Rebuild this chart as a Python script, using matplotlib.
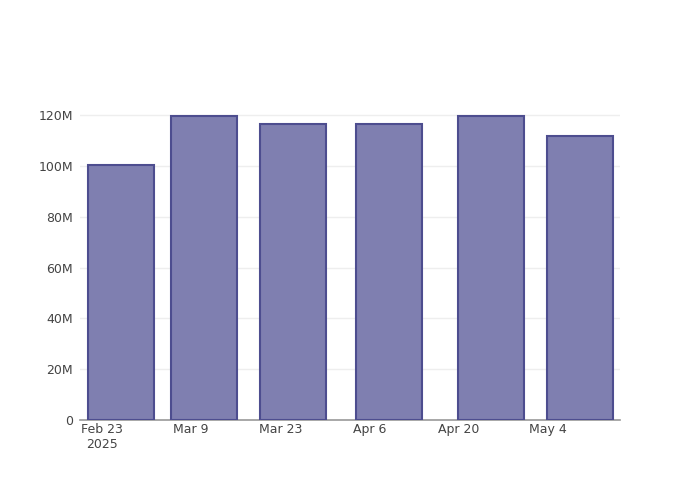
import matplotlib
matplotlib.use("Agg")
import matplotlib.pyplot as plt
import numpy as np
from datetime import datetime

# weekly-ish totals
dates = ["2025-02-26", "2025-03-11", "2025-03-25", "2025-04-09", "2025-04-25", "2025-05-09"]
values = [100.6e6, 119.6e6, 116.4e6, 116.4e6, 119.6e6, 111.7e6]

tick_dates = ["2025-02-23", "2025-03-09", "2025-03-23", "2025-04-06", "2025-04-20", "2025-05-04"]
tick_labels = ["Feb 23\n2025", "Mar 9", "Mar 23", "Apr 6", "Apr 20", "May 4"]

yticks = [0, 20e6, 40e6, 60e6, 80e6, 100e6, 120e6]
ylabels = ["0", "20M", "40M", "60M", "80M", "100M", "120M"]

x = [datetime.strptime(d, "%Y-%m-%d") for d in dates]
xt = [datetime.strptime(d, "%Y-%m-%d") for d in tick_dates]

fig = plt.figure(figsize=(7, 5), dpi=100)
ax = fig.add_axes([80 / 700, 80 / 500, 540 / 700, 320 / 500])

ax.bar(x, values, width=10.4, color="#7f7fb0", edgecolor="#4d4d8f",
       linewidth=1.5, zorder=3)

ax.set_xlim(datetime(2025, 2, 19, 14), datetime(2025, 5, 15, 6))
ax.set_ylim(0, 126e6)

ax.set_xticks(xt)
ax.set_xticklabels(tick_labels, fontsize=9, color="#444444")
for lbl in ax.get_xticklabels()[:1]:
    lbl.set_multialignment("center")
ax.set_yticks(yticks)
ax.set_yticklabels(ylabels, fontsize=9, color="#444444")
ax.tick_params(axis="both", length=0)
ax.tick_params(axis="x", pad=2)
ax.tick_params(axis="y", pad=5)

ax.grid(axis="y", color="#eeeeee", linewidth=1, zorder=0)
for s in ["top", "right", "left"]:
    ax.spines[s].set_visible(False)
ax.spines["bottom"].set_color("#999999")
ax.spines["bottom"].set_linewidth(1.2)

fig.savefig("out.png", dpi=100)
